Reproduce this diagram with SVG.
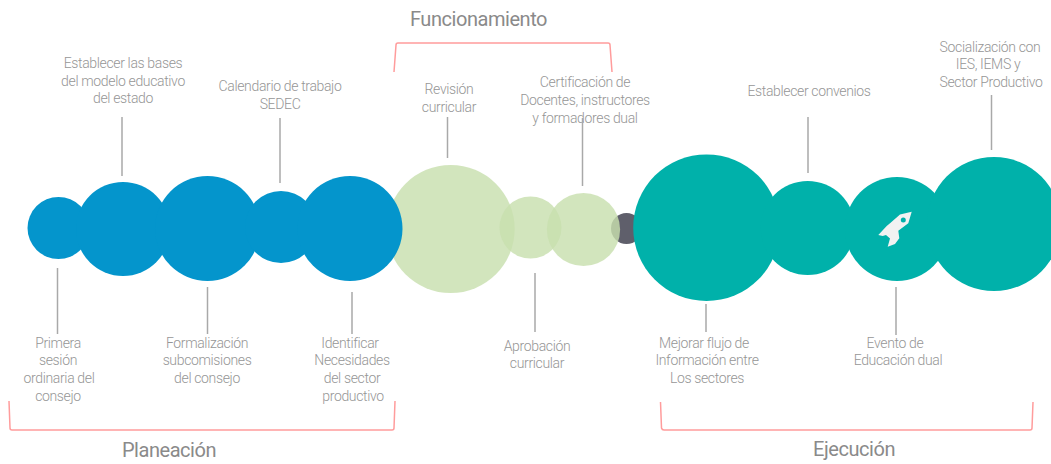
<svg xmlns="http://www.w3.org/2000/svg" width="1051" height="464" viewBox="0 0 1051 464">
<style>
text{font-family:Roboto,"Liberation Sans",sans-serif;text-anchor:middle}
.l{font-size:14px;font-weight:300;fill:#969696;letter-spacing:-.35px;transform:translateY(-.5px)}
.t{font-size:20px;font-weight:400;fill:#8a8a8a;letter-spacing:-.45px}
.b{fill:#0495cc}.g{fill:#c8dfaf;fill-opacity:.82}.e{fill:#00b1aa}.d{fill:#5f5f6b}
.c line{stroke:#a9a9a9;stroke-width:1.5}
.br{fill:none;stroke:#ff9c9c;stroke-width:1.5}
</style>
<g id="n-dark"><circle class="d" cx="626.5" cy="228.5" r="15.5"/></g>
<g id="n-revision"><circle class="g" cx="450.7" cy="229" r="64"/><text class="l"><tspan x="449" y="94">Revisión</tspan><tspan x="449" y="112">curricular</tspan></text></g>
<g id="n-aprobacion"><circle class="g" cx="530.5" cy="227.5" r="31"/><text class="l"><tspan x="537" y="351">Aprobación</tspan><tspan x="537" y="368">curricular</tspan></text></g>
<g id="n-certificacion"><circle class="g" cx="583.5" cy="229.5" r="36.6"/><text class="l"><tspan x="585" y="87">Certificación de</tspan><tspan x="585" y="105">Docentes, instructores</tspan><tspan x="585" y="123">y formadores dual</tspan></text></g>
<g id="n-primera"><circle class="b" cx="58.5" cy="228" r="31"/><text class="l"><tspan x="58" y="348">Primera</tspan><tspan x="58" y="365">sesión</tspan><tspan x="59" y="383">ordinaria del</tspan><tspan x="58" y="401">consejo</tspan></text></g>
<g id="n-bases"><circle class="b" cx="123" cy="229" r="47"/><text class="l"><tspan x="123" y="68">Establecer las bases</tspan><tspan x="123" y="86">del modelo educativo</tspan><tspan x="123" y="103">del estado</tspan></text></g>
<g id="n-formalizacion"><circle class="b" cx="207.5" cy="228.5" r="52.5"/><text class="l"><tspan x="207" y="348">Formalización</tspan><tspan x="207" y="365">subcomisiones</tspan><tspan x="207" y="383">del consejo</tspan></text></g>
<g id="n-calendario"><circle class="b" cx="281" cy="227" r="36"/><text class="l"><tspan x="280" y="91">Calendario de trabajo</tspan><tspan x="280" y="109">SEDEC</tspan></text></g>
<g id="n-identificar"><circle class="b" cx="350" cy="228.5" r="52.5"/><text class="l"><tspan x="350" y="348">Identificar</tspan><tspan x="352" y="365">Necesidades</tspan><tspan x="352" y="383">del sector</tspan><tspan x="353" y="401">productivo</tspan></text></g>
<g id="n-mejorar"><circle class="e" cx="706.5" cy="227.7" r="73.3"/><text class="l"><tspan x="704" y="348">Mejorar flujo de</tspan><tspan x="707" y="365">Información entre</tspan><tspan x="707" y="383">Los sectores</tspan></text></g>
<g id="n-convenios"><circle class="e" cx="807.7" cy="228" r="47"/><text class="l"><tspan x="809" y="96">Establecer convenios</tspan></text></g>
<g id="n-evento"><circle class="e" cx="897" cy="229" r="52"/><path fill="#f2f2f2" d="M911.7 211.7L900 214.5L890 223.3L886.7 226L878.3 235L882.7 236L886 235L890 238.5L887.7 246.7L895 244L899.3 238.3L898.3 230.7L908.3 223.3Z"/><circle cx="903.3" cy="220" r="2.5" class="e"/><text class="l"><tspan x="895" y="348">Evento de</tspan><tspan x="898" y="365">Educación dual</tspan></text></g>
<g id="n-socializacion"><circle class="e" cx="994" cy="224" r="67"/><text class="l"><tspan x="990" y="52">Socialización con</tspan><tspan x="988" y="69">IES, IEMS y</tspan><tspan x="991" y="87">Sector Productivo</tspan></text></g>
<g id="connectors" class="c">
<line x1="122" y1="117" x2="122" y2="176"/>
<line x1="280" y1="118" x2="280" y2="183"/>
<line x1="57.5" y1="268" x2="57.5" y2="334"/>
<line x1="207.5" y1="287" x2="207.5" y2="334"/>
<line x1="352" y1="292" x2="352" y2="334"/>
<line x1="447.5" y1="117" x2="447.5" y2="158"/>
<line x1="582.5" y1="118" x2="582.5" y2="186"/>
<line x1="535" y1="273" x2="535" y2="332"/>
<line x1="706" y1="304" x2="706" y2="332"/>
<line x1="896" y1="287" x2="896" y2="335"/>
<line x1="808" y1="117" x2="808" y2="173"/>
<line x1="991.5" y1="95" x2="991.5" y2="150"/>
</g>
<g id="brackets">
<path class="br" d="M9 401L10 428Q10 430 12 430H392Q394 430 394 428L395 401"/>
<path class="br" d="M660.5 402L661.5 428Q662 430 664 430H1030Q1032 430 1032 428L1033 402"/>
<path class="br" d="M394 72L396 45Q396 43 398 43H608Q610 43 610 45L612 72"/>
</g>
<text class="t" x="169" y="457">Planeación</text>
<text class="t" x="478.5" y="26">Funcionamiento</text>
<text class="t" x="854" y="456">Ejecución</text>
</svg>
